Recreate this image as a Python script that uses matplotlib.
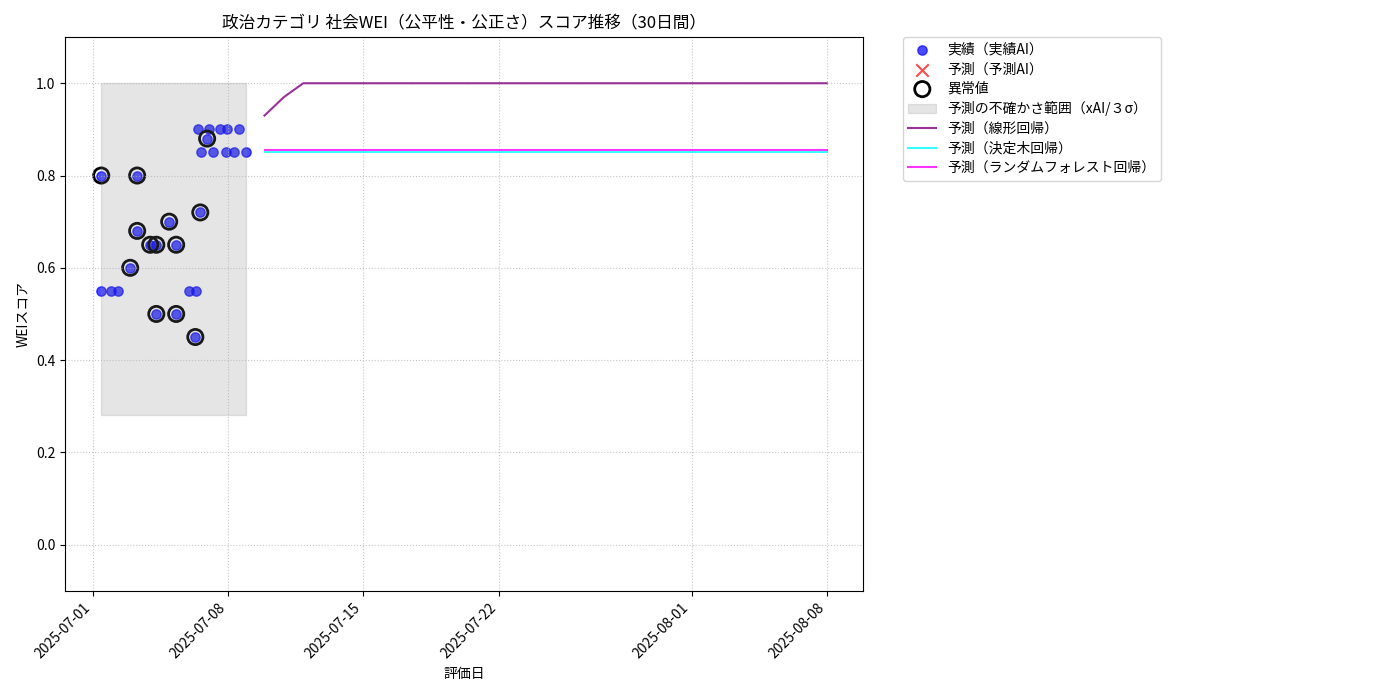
import numpy as np
import pandas as pd
import matplotlib
matplotlib.use("Agg")
import matplotlib.pyplot as plt

plt.rcParams['font.family'] = ['Noto Sans CJK JP', 'DejaVu Sans']

# actual scores (実績AI)
actual_dates = pd.to_datetime([
    "2025-07-01 10:00", "2025-07-01 22:20", "2025-07-02 07:10", "2025-07-01 10:00",
    "2025-07-03 06:40", "2025-07-03 06:40", "2025-07-02 22:00", "2025-07-03 22:50",
    "2025-07-04 06:30", "2025-07-05 07:10", "2025-07-04 22:30", "2025-07-04 06:30",
    "2025-07-05 07:10", "2025-07-05 23:30", "2025-07-06 08:10", "2025-07-06 07:00",
    "2025-07-06 13:10", "2025-07-06 21:40", "2025-07-06 10:30", "2025-07-07 00:00",
    "2025-07-07 14:00", "2025-07-07 22:50", "2025-07-08 13:40", "2025-07-06 14:20",
    "2025-07-07 05:20", "2025-07-07 21:40", "2025-07-08 07:30", "2025-07-08 22:20",
])
actual_scores = [
    0.55, 0.55, 0.55, 0.80,
    0.80, 0.68, 0.60, 0.65,
    0.65, 0.65, 0.70, 0.50,
    0.50, 0.55, 0.55, 0.45,
    0.72, 0.88, 0.90, 0.90,
    0.90, 0.90, 0.90, 0.85,
    0.85, 0.85, 0.85, 0.85,
]
is_anomaly = [
    0, 0, 0, 1,
    1, 1, 1, 1,
    1, 1, 1, 1,
    1, 0, 0, 1,
    1, 1, 0, 0,
    0, 0, 0, 0,
    0, 0, 0, 0,
]

# uncertainty band (xAI / 3 sigma)
band_low = 0.28
band_high = 1.0

# 30-day forecasts
forecast_dates = pd.date_range("2025-07-09 21:00", "2025-08-08", periods=30)
pred_linear = [0.93, 0.97] + [1.0] * 28
pred_tree = [0.85] * 30
pred_forest = [0.855] * 30

anom_dates = [d for d, a in zip(actual_dates, is_anomaly) if a]
anom_scores = [s for s, a in zip(actual_scores, is_anomaly) if a]

fig, ax = plt.subplots(figsize=(14, 7), dpi=100)

ax.scatter(actual_dates, actual_scores, color="blue", alpha=0.7, s=45, label="実績（実績AI）")
ax.scatter([], [], color="red", marker="x", alpha=0.7, s=80, label="予測（予測AI）")
ax.scatter(anom_dates, anom_scores, facecolors="none", edgecolors="black", s=120,
           linewidths=2, label="異常値")
ax.fill_between([actual_dates.min(), actual_dates.max()], band_low, band_high,
                color="gray", alpha=0.2, label="予測の不確かさ範囲（xAI/３σ）")
ax.plot(forecast_dates, pred_linear, color="purple", alpha=0.8, label="予測（線形回帰）")
ax.plot(forecast_dates, pred_tree, color="cyan", alpha=0.8, label="予測（決定木回帰）")
ax.plot(forecast_dates, pred_forest, color="magenta", alpha=0.8, label="予測（ランダムフォレスト回帰）")

ax.set_ylim(-0.1, 1.1)
ax.set_title("政治カテゴリ 社会WEI（公平性・公正さ）スコア推移（30日間）", fontsize=12)
ax.set_xlabel("評価日")
ax.set_ylabel("WEIスコア")
ax.grid(True, linestyle=":", alpha=0.7)
plt.setp(ax.get_xticklabels(), rotation=45, ha="right")
ax.legend(loc="upper left", bbox_to_anchor=(1.05, 1), borderaxespad=0., labelspacing=0.4)

fig.subplots_adjust(left=0.0464, right=0.6164, top=0.947, bottom=0.156)
fig.savefig("out.png")
